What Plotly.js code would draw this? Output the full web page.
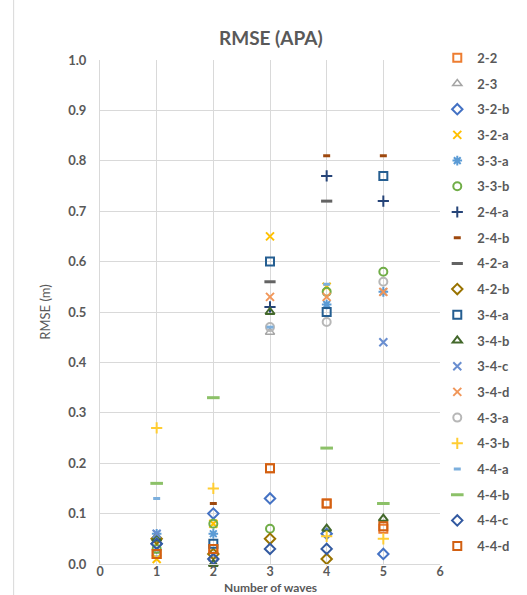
<!DOCTYPE html>
<html>
<head>
<meta charset="utf-8">
<script src="https://cdn.plot.ly/plotly-3.0.1.min.js"></script>
<style>
html,body{margin:0;padding:0;background:#fff;}
#chart{width:527px;height:595px;}
</style>
</head>
<body>
<div id="chart"></div>
<script>
const waves = [1, 2, 3, 4, 5];
const seriesNames = ["2-2","2-3","3-2-b","3-2-a","3-3-a","3-3-b","2-4-a","2-4-b","4-2-a","4-2-b","3-4-a","3-4-b","3-4-c","3-4-d","4-3-a","4-3-b","4-4-a","4-4-b","4-4-c","4-4-d"];
const s_2_2   = [0.02, 0.03, 0.19, 0.12, 0.07];
const s_2_3   = [0.02, 0.01, 0.46, null, null];
const s_3_2_b = [0.04, 0.10, 0.13, 0.06, 0.02];
const s_3_2_a = [0.01, 0.08, 0.65, 0.55, null];
const s_3_3_a = [0.06, 0.06, null, 0.515, 0.54];
const s_3_3_b = [0.03, 0.08, 0.07, 0.54, 0.58];
const s_2_4_a = [null, null, 0.51, 0.77, 0.72];
const s_2_4_b = [null, 0.12, null, 0.81, 0.81];
const s_4_2_a = [null, null, 0.56, 0.72, null];
const s_4_2_b = [0.05, 0.02, 0.05, 0.01, null];
const s_3_4_a = [null, 0.04, 0.60, 0.50, 0.77];
const s_3_4_b = [0.05, 0.00, 0.50, 0.07, 0.09];
const s_3_4_c = [0.06, null, null, null, 0.44];
const s_3_4_d = [null, null, 0.53, 0.53, 0.54];
const s_4_3_a = [null, null, 0.47, 0.48, 0.56];
const s_4_3_b = [0.27, 0.15, null, 0.055, 0.05];
const s_4_4_a = [0.13, null, 0.47, 0.555, null];
const s_4_4_b = [0.16, 0.33, null, 0.23, 0.12];
const s_4_4_c = [0.04, 0.01, 0.03, 0.03, null];
const s_4_4_d = [0.02, 0.03, 0.19, 0.12, 0.075];
const seriesValues = [s_2_2,s_2_3,s_3_2_b,s_3_2_a,s_3_3_a,s_3_3_b,s_2_4_a,s_2_4_b,s_4_2_a,s_4_2_b,s_3_4_a,s_3_4_b,s_3_4_c,s_3_4_d,s_4_3_a,s_4_3_b,s_4_4_a,s_4_4_b,s_4_4_c,s_4_4_d];

const styles = [
  {c:"#ED7D31", s:"square-open", z:8, w:2},
  {c:"#A5A5A5", s:"triangle-up-open", z:8, w:1.5},
  {c:"#4472C4", s:"diamond-open", z:8, w:2},
  {c:"#FFC000", s:"x-thin-open", z:8, w:2},
  {c:"#5B9BD5", s:"asterisk-open", z:8, w:2},
  {c:"#70AD47", s:"circle-open", z:8, w:2},
  {c:"#264478", s:"cross-thin-open", z:8, w:2},
  {c:"#9E480E", s:"line-ew-open", z:5, w:3},
  {c:"#636363", s:"line-ew-open", z:8, w:3},
  {c:"#997300", s:"diamond-open", z:8, w:2},
  {c:"#255E91", s:"square-open", z:8, w:2},
  {c:"#43682B", s:"triangle-up-open", z:8, w:2},
  {c:"#698ED0", s:"x-thin-open", z:8, w:2},
  {c:"#F1975A", s:"x-thin-open", z:8, w:2},
  {c:"#B7B7B7", s:"circle-open", z:8, w:2},
  {c:"#FFCD33", s:"cross-thin-open", z:8, w:2},
  {c:"#7CAFDD", s:"line-ew-open", z:5, w:3},
  {c:"#8CC168", s:"line-ew-open", z:9, w:3},
  {c:"#335AA1", s:"diamond-open", z:8, w:2},
  {c:"#D26012", s:"square-open", z:8, w:2}
];

const traces = seriesNames.map((name, i) => ({
  type: "scatter",
  mode: "markers",
  name: name,
  legendgroup: "g" + i,
  x: waves,
  y: seriesValues[i],
  marker: {symbol: styles[i].s, size: styles[i].z, color: styles[i].c,
           line: {color: styles[i].c, width: styles[i].w}},
  cliponaxis: false
}));

const gray = "#595959";
const layout = {
  width: 527, height: 595,
  margin: {l: 100, r: 69, t: 60, b: 31},
  paper_bgcolor: "#fff", plot_bgcolor: "#fff",
  font: {family: "Lato, 'Open Sans', sans-serif", color: gray},
  title: {text: "<b>RMSE (APA)</b>", x: 0.514, xref: "container", xanchor: "center",
          y: 0.935, yref: "container", yanchor: "middle",
          font: {size: 19, color: gray, family: "Lato, sans-serif"}},
  xaxis: {range: [0, 6], dtick: 1, tick0: 0, showgrid: true, gridcolor: "#D9D9D9", gridwidth: 1,
          zeroline: false, showline: true, linecolor: "#D9D9D9", ticks: "",
          ticklabelstandoff: -4,
          tickfont: {size: 12.5, color: gray, family: "Lato, sans-serif", weight: "bold"}},
  yaxis: {range: [0, 1], dtick: 0.1, tick0: 0, tickformat: ".1f", showgrid: true, gridcolor: "#D9D9D9",
          gridwidth: 1, zeroline: false, showline: true, linecolor: "#D9D9D9", ticks: "",
          ticklabelstandoff: 10,
          tickfont: {size: 13, color: gray, family: "Lato, sans-serif", weight: "bold"},
          title: {text: "RMSE (m)", standoff: 14, font: {size: 13, color: gray}}},
  legend: {x: 0.992, xanchor: "left", y: 1.034, yanchor: "top", itemwidth: 30,
           tracegroupgap: 5.8, bgcolor: "rgba(0,0,0,0)", maxheight: 595,
           font: {size: 13, color: gray, family: "Lato, sans-serif", weight: "bold"}},
  annotations: [{text: "<b>Number of waves</b>", xref: "paper", yref: "paper", x: 0.5, y: -0.047,
                 xanchor: "center", yanchor: "middle", showarrow: false,
                 font: {size: 12, color: gray, family: "Lato, sans-serif"}}],
  shapes: [{type: "line", xref: "paper", yref: "paper", x0: -0.254, x1: -0.254, y0: -0.07, y1: 1.13,
            line: {color: "#D9D9D9", width: 1}}]
};

Plotly.newPlot("chart", traces, layout, {displayModeBar: false, staticPlot: true});
</script>
</body>
</html>
